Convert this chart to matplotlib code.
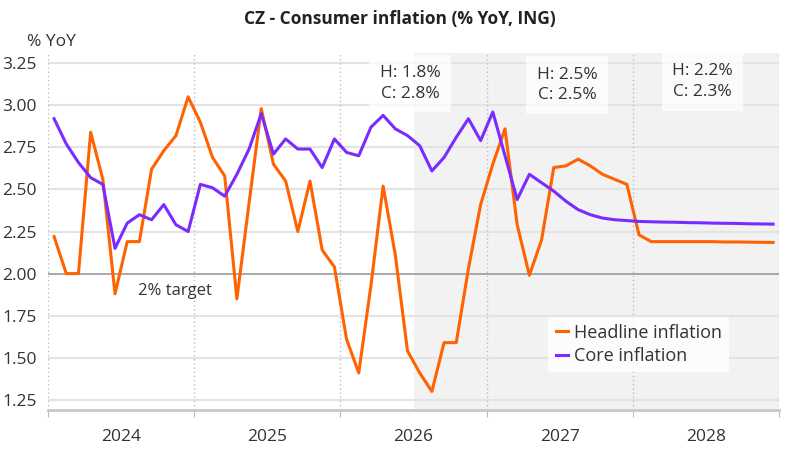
import matplotlib
matplotlib.use("Agg")
import matplotlib.pyplot as plt

# monthly data, Jul 2023 .. Jun 2028
headline = [2.22, 2.00, 2.00, 2.84, 2.56, 1.88, 2.19, 2.19, 2.62, 2.73, 2.82, 3.05,
            2.90, 2.69, 2.58, 1.85, 2.42, 2.98, 2.65, 2.55, 2.25, 2.55, 2.14, 2.04,
            1.61, 1.41, 1.93, 2.52, 2.11, 1.54, 1.41, 1.30, 1.59, 1.59, 2.03, 2.41,
            2.65, 2.86, 2.29, 1.99, 2.20, 2.63, 2.64, 2.68, 2.64, 2.59, 2.56, 2.53,
            2.23, 2.19, 2.19, 2.19, 2.19, 2.19, 2.19, 2.188, 2.188, 2.187, 2.186, 2.185]
core = [2.92, 2.77, 2.66, 2.57, 2.53, 2.15, 2.30, 2.35, 2.32, 2.41, 2.29, 2.25,
        2.53, 2.51, 2.46, 2.59, 2.74, 2.95, 2.71, 2.80, 2.74, 2.74, 2.63, 2.80,
        2.72, 2.70, 2.87, 2.94, 2.86, 2.82, 2.76, 2.61, 2.69, 2.81, 2.92, 2.79,
        2.96, 2.70, 2.44, 2.59, 2.54, 2.49, 2.43, 2.38, 2.35, 2.33, 2.32, 2.315,
        2.31, 2.308, 2.306, 2.305, 2.303, 2.302, 2.300, 2.299, 2.298, 2.296, 2.295, 2.294]
years = ["2024", "2025", "2026", "2027", "2028"]
forecast_start = 29.5  # Jan 2026
boxes = [(29.2, 3.13, "H: 1.8%\nC: 2.8%"),
         (42.1, 3.12, "H: 2.5%\nC: 2.5%"),
         (53.2, 3.14, "H: 2.2%\nC: 2.3%")]

orange = "#FF6200"
purple = "#7A2BFF"

plt.rcParams["font.family"] = ["Open Sans", "DejaVu Sans"]

fig = plt.figure(figsize=(8, 4.5), dpi=100)
ax = fig.add_axes([0.06, 0.089, 0.914, 0.793])

x = list(range(len(headline)))
ax.axvspan(forecast_start, 59.5, color="#f2f2f2", zorder=0, lw=0)

for v in [1.25, 1.5, 1.75, 2.25, 2.5, 2.75, 3.0, 3.25]:
    ax.axhline(v, color="#e3e3e3", lw=1.5, zorder=1)
ax.axhline(2.0, color="#9a9a9a", lw=1.2, zorder=1)

year_edges = [-0.5, 11.5, 23.5, 35.5, 47.5, 59.5]
for e in year_edges:
    ax.axvline(e, color="#bdbdbd", lw=1, ls=(0, (1, 2)), zorder=1)

ax.plot(x, headline, color=orange, lw=2.2, label="Headline inflation", zorder=3)
ax.plot(x, core, color=purple, lw=2.2, label="Core inflation", zorder=3)

for bx, by, txt in boxes:
    ax.text(bx, by, txt, ha="center", va="center", fontsize=12.5, color="#333333",
            linespacing=1.4, zorder=4,
            bbox=dict(boxstyle="square,pad=0.6", fc="white", ec="none", alpha=0.75))

ax.text(6.9, 1.895, "2% target", fontsize=12, color="#333333", va="center", zorder=4)

ax.set_xlim(-0.5, 59.5)
ax.set_ylim(1.19, 3.31)
ax.set_yticks([1.25, 1.5, 1.75, 2.0, 2.25, 2.5, 2.75, 3.0, 3.25])
ax.set_yticklabels(["1.25", "1.50", "1.75", "2.00", "2.25", "2.50", "2.75", "3.00", "3.25"])
ax.set_xticks(year_edges)
ax.set_xticklabels([])
ax.set_xticks([5.5, 17.5, 29.5, 41.5, 53.5], minor=True)
ax.set_xticklabels(years, minor=True)
ax.tick_params(axis="x", which="major", length=5, color="#bdbdbd")
ax.tick_params(axis="x", which="minor", length=0, pad=14, labelsize=12.5, labelcolor="#333333")
ax.tick_params(axis="y", length=0, pad=8, labelsize=12.5, labelcolor="#333333")

for s in ["top", "right", "left"]:
    ax.spines[s].set_visible(False)
ax.spines["bottom"].set_color("#c8c8c8")
ax.spines["bottom"].set_linewidth(2)

leg = ax.legend(loc="lower left", bbox_to_anchor=(0.672, 0.08), fontsize=13,
                frameon=True, handlelength=0.7, handletextpad=0.3, borderpad=0.4,
                labelspacing=0.3, fancybox=False)
leg.get_frame().set_facecolor("white")
leg.get_frame().set_edgecolor("none")
leg.get_frame().set_alpha(0.8)
for t in leg.get_texts():
    t.set_color("#333333")

fig.text(0.5, 0.958, "CZ - Consumer inflation (% YoY, ING)", ha="center", va="center",
         fontsize=12.5, fontweight="bold", color="#222222")
fig.text(0.034, 0.907, "% YoY", ha="left", va="center", fontsize=12.5, color="#333333")

fig.savefig("out.png", dpi=100)
